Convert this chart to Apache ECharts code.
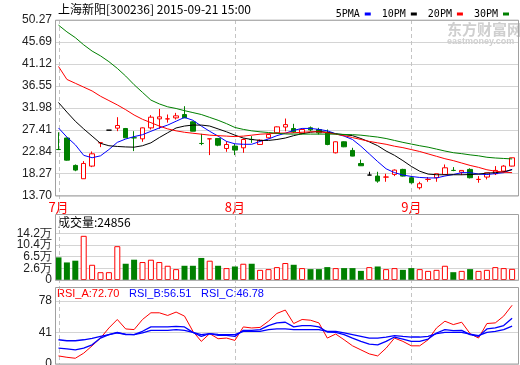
<!DOCTYPE html>
<html><head><meta charset="utf-8">
<script src="https://cdn.jsdelivr.net/npm/echarts@6/dist/echarts.min.js"></script>
<style>html,body{margin:0;padding:0;background:#fff}#c{width:520px;height:365px}</style>
</head><body><div id="c"></div>
<script>
const dates = ['2015-07-03','2015-07-06','2015-07-07','2015-07-08','2015-07-09','2015-07-10','2015-07-13','2015-07-14','2015-07-15','2015-07-16','2015-07-17','2015-07-20','2015-07-21','2015-07-22','2015-07-23','2015-07-24','2015-07-27','2015-07-28','2015-07-29','2015-07-30','2015-07-31',
'2015-08-03','2015-08-04','2015-08-05','2015-08-06','2015-08-07','2015-08-10','2015-08-11','2015-08-12','2015-08-13','2015-08-14','2015-08-17','2015-08-18','2015-08-19','2015-08-20','2015-08-21','2015-08-24','2015-08-25','2015-08-26','2015-08-27','2015-08-28','2015-08-31',
'2015-09-01','2015-09-02','2015-09-07','2015-09-08','2015-09-09','2015-09-10','2015-09-11','2015-09-14','2015-09-15','2015-09-16','2015-09-17','2015-09-18','2015-09-21'];
const openP = [23.32,25.70,20.00,17.23,19.86,24.70,27.34,27.76,27.69,25.76,25.54,27.82,29.69,29.68,29.90,30.59,29.07,24.58,25.53,25.61,23.53,24.02,23.67,25.41,24.36,25.75,26.79,27.99,27.69,26.65,27.83,27.48,26.79,22.63,24.92,23.12,20.40,17.99,17.78,17.57,18.13,19.17,17.44,15.36,17.08,17.44,18.13,18.97,18.60,19.17,17.08,17.58,18.27,18.82,19.86];
const closeP = [23.30,21.10,19.03,20.41,22.42,24.72,27.34,28.31,25.75,25.74,27.82,30.04,30.11,29.70,30.32,29.90,27.13,24.56,25.55,24.22,24.36,23.19,25.40,25.39,25.26,26.44,28.03,28.50,26.99,27.48,27.41,26.79,24.36,24.92,23.88,21.94,19.93,17.99,16.74,17.59,19.03,17.78,16.40,16.19,17.10,18.27,19.51,18.95,18.96,17.44,17.10,18.47,18.96,19.86,21.59];
const lowP = [23.20,21.00,18.80,17.20,19.65,23.81,27.34,27.13,25.70,22.98,24.92,27.48,27.62,28.90,29.56,29.90,27.10,24.22,22.15,24.00,22.84,22.15,22.63,24.70,24.30,25.60,26.60,27.10,26.79,26.50,27.10,26.44,24.20,22.50,23.80,21.90,19.90,17.99,16.40,16.60,17.78,17.70,16.20,15.00,16.60,16.60,18.10,18.80,17.99,17.30,16.40,17.09,18.00,18.50,19.80];
const highP = [26.90,25.80,20.20,20.90,22.90,24.72,27.34,30.04,27.80,27.13,27.90,30.46,31.77,30.60,30.94,32.33,29.20,26.58,25.55,25.70,25.05,24.50,25.61,26.10,25.40,26.60,28.10,29.76,28.66,27.60,28.10,27.83,27.48,25.00,25.00,23.67,21.20,18.68,18.68,18.27,19.17,19.30,17.78,16.60,17.58,18.27,20.20,19.65,18.96,19.40,17.78,18.47,19.86,20.06,21.60];
const ma5 = [27.8,25.9,24.3,22.1,21.6,22.0,23.3,24.8,25.5,26.0,26.4,27.1,27.8,28.4,29.2,30.0,29.4,28.2,27.1,26.1,25.0,24.5,24.4,24.4,25.0,25.5,26.2,26.7,27.3,27.7,27.7,27.5,27.2,26.6,26.1,25.4,24.0,22.4,20.8,19.3,18.5,18.0,17.7,17.5,17.4,17.4,17.8,18.1,18.5,18.5,18.2,18.1,18.3,18.5,19.2];
const ma10 = [33.1,31.1,29.2,27.6,26.1,24.6,24.1,23.95,23.85,23.8,24.1,24.7,25.8,26.8,27.8,28.2,28.4,28.4,28.2,27.6,27.0,26.3,25.7,25.4,25.2,25.2,25.4,25.7,26.2,26.6,26.9,27.1,26.9,26.6,26.4,26.2,25.6,24.9,24.1,23.0,22.1,21.0,19.8,18.8,18.2,18.06,18.06,18.06,18.06,18.1,18.2,18.4,18.5,18.7,19.1];
const ma20 = [40.6,37.9,37.1,36.3,35.5,34.4,33.5,32.6,31.6,30.5,29.6,28.9,28.2,27.6,27.2,26.9,26.7,26.5,26.3,26.2,26.1,26.0,26.1,26.3,26.5,26.6,26.7,26.75,26.8,26.9,27.0,27.0,26.8,26.5,26.2,25.8,25.4,25.0,24.7,24.4,24.0,23.7,23.3,22.9,22.4,21.9,21.4,21.0,20.5,20.0,19.6,19.1,18.8,18.6,18.5];
const ma30 = [49.2,47.8,46.6,45.1,43.8,42.8,41.6,40.2,38.6,36.8,35.2,33.6,32.8,32.2,31.85,31.4,31.0,30.6,30.0,29.4,28.7,27.9,27.5,27.2,27.0,26.85,26.7,26.55,26.52,26.52,26.52,26.52,26.52,26.52,26.45,26.4,26.3,26.1,25.9,25.6,25.2,24.8,24.45,24.1,23.8,23.4,23.0,22.65,22.45,22.2,22.0,21.7,21.55,21.45,21.35];
const vol = [5.04,3.91,4.30,9.84,3.39,1.74,1.74,7.53,3.62,4.52,4.00,4.52,4.00,3.17,2.42,3.17,3.17,4.91,4.30,3.17,2.65,3.01,3.62,3.62,2.26,2.42,2.87,3.78,3.39,2.65,2.42,2.42,2.87,2.65,2.65,2.65,2.03,2.87,3.01,2.42,2.65,2.26,2.65,2.42,2.03,2.26,3.17,1.74,2.03,2.42,2.03,2.26,2.87,2.65,2.4856];
const rsiA = [10.0,8.3,7.1,13.4,22.5,32.1,44.6,55.1,43.4,42.6,55.1,63.4,63.4,60.1,64.3,59.3,40.5,28.0,37.6,31.3,32.1,29.2,45.9,44.6,45.3,53.0,62.6,66.8,50.1,55.1,54.2,50.9,32.1,37.1,30.0,22.5,17.5,12.5,10.0,19.6,32.1,28.0,22.5,22.5,30.0,44.6,53.0,48.8,51.7,37.6,32.1,50.1,50.9,59.3,72.7];
const rsiB = [19.6,18.8,17.5,19.6,23.8,32.1,36.3,39.2,36.3,36.3,40.5,45.9,45.9,45.9,46.7,45.9,39.2,34.2,37.6,35.5,35.5,34.2,41.7,41.7,42.5,47.6,50.9,51.7,45.9,47.6,47.6,45.9,39.6,39.2,36.3,32.1,28.0,24.6,23.8,28.0,33.4,30.9,28.0,28.0,30.9,38.4,42.6,41.3,41.7,36.3,34.2,43.4,44.6,47.6,56.5];
const rsiC = [30.0,28.8,28.8,30.0,31.7,34.2,36.3,38.4,37.1,36.3,38.4,41.7,41.7,41.7,42.6,41.7,39.2,36.3,37.6,36.7,36.3,36.3,40.5,40.5,40.5,42.6,43.4,43.4,42.6,42.6,42.6,42.6,40.5,40.5,38.4,36.3,34.2,32.1,32.1,33.4,35.1,34.2,33.4,33.4,34.2,37.6,39.2,39.2,39.2,37.1,35.1,39.2,40.5,42.6,46.8];
const priceTicks = ['13.70','18.27','22.84','27.41','31.98','36.55','41.12','45.69','50.27'];
const volTicks = ['0','2.6万','6.5万','10.4万','14.2万'];
const volStep = 2.6;
const rsiTicks = ['0','41','78'];
const maNames = ['5PMA','10PM','20PM','30PM'];
const title = '上海新阳[300236] 2015-09-21 15:00';
const volHeader = '成交量:24856';
const rsiHeader = ['RSI_A:72.70','RSI_B:56.51','RSI_C:46.78'];

const UP = '#ff0000', DOWN = '#008000', BLUE = '#0000ff';
const FRAME = '#a0a0a0', GRIDC = '#d4d4d4';
const gL = 54.3, gW = 462, fL = 55, fW = 464;
const P = {top: 20, h: 175.7}, V = {top: 233.3, h: 46.7}, R = {top: 301, h: 63};
const monthStarts = dates.map((d, i) => (i === 0 || d.slice(5, 7) !== dates[i - 1].slice(5, 7)) ? i : -1).filter(i => i >= 0);

const candleData = dates.map((d, i) => {
  const it = {value: [openP[i], closeP[i], lowP[i], highP[i]]};
  if (openP[i] === closeP[i]) it.itemStyle = {color: '#000', color0: '#000', borderColor: '#000', borderColor0: '#000'};
  return it;
});
const volData = vol.map((v, i) => closeP[i] >= openP[i]
  ? {value: v, itemStyle: {color: '#fff', borderColor: UP, borderWidth: 1}}
  : {value: v, itemStyle: {color: DOWN}});

const lblStyle = {color: '#222', fontSize: 12, fontFamily: 'Liberation Sans', margin: 3, showMinLabel: true, showMaxLabel: true, hideOverlap: false};
function labelAxis(grid, ticks, showLabels) {
  return {type: 'value', gridIndex: grid, min: 0, max: ticks.length - 1, interval: 1,
    axisLine: {show: false}, axisTick: {show: false},
    splitLine: {show: true, lineStyle: {color: GRIDC, width: 1}},
    axisLabel: Object.assign({show: showLabels, formatter: v => ticks[Math.round(v)]}, lblStyle)};
}
const lineS = (name, data, color, xi, yi, w) => ({name, type: 'line', data, xAxisIndex: xi, yAxisIndex: yi,
  showSymbol: false, symbol: 'none', smooth: false, itemStyle: {color}, lineStyle: {color, width: w || 1}, z: 3});
const mkGrid = (left, width, top, height) => ({left, width, top, height, containLabel: false, outerBoundsMode: 'none'});

const chart = echarts.init(document.getElementById('c'));
chart.setOption({
  animation: false,
  backgroundColor: '#fff',
  legend: {data: maNames, right: 6, top: 4, align: 'right', icon: 'rect', itemWidth: 6, itemHeight: 3, itemGap: 11,
    selectedMode: false, textStyle: {fontFamily: 'DejaVu Sans Mono', fontSize: 10, color: '#000'}},
  grid: [
    mkGrid(gL, gW, P.top, P.h), mkGrid(fL, fW, P.top, P.h),
    mkGrid(gL, gW, V.top, V.h), mkGrid(fL, fW, V.top, V.h),
    mkGrid(gL, gW, R.top, R.h), mkGrid(fL, fW, R.top, R.h)
  ],
  xAxis: [
    {type: 'category', gridIndex: 0, data: dates, boundaryGap: true, axisLine: {show: false}, axisTick: {show: false}, splitLine: {show: false},
      axisLabel: {interval: i => monthStarts.includes(i), formatter: v => Number(v.slice(5, 7)) + '月', color: UP,
        fontSize: 13, fontFamily: 'Noto Sans CJK SC', margin: 5, hideOverlap: false}},
    {type: 'value', gridIndex: 1, show: false, min: 0, max: 1},
    {type: 'category', gridIndex: 2, data: dates, show: false},
    {type: 'value', gridIndex: 3, show: false, min: 0, max: 1},
    {type: 'category', gridIndex: 4, data: dates, show: false},
    {type: 'value', gridIndex: 5, show: false, min: 0, max: 1}
  ],
  yAxis: [
    {type: 'value', gridIndex: 0, min: Number(priceTicks[0]), max: Number(priceTicks[priceTicks.length - 1]), show: false},
    labelAxis(1, priceTicks, true),
    {type: 'value', gridIndex: 2, min: 0, max: volStep * (volTicks.length - 1), show: false},
    labelAxis(3, volTicks, false),
    {type: 'value', gridIndex: 4, min: 0, max: Number(rsiTicks[rsiTicks.length - 1]), show: false},
    labelAxis(5, rsiTicks, true)
  ],
  series: [
    {type: 'candlestick', name: 'K', data: candleData, xAxisIndex: 0, yAxisIndex: 0, barWidth: 5,
      itemStyle: {color: '#fff', color0: DOWN, borderColor: UP, borderColor0: DOWN, borderWidth: 1}, z: 2},
    lineS(maNames[0], ma5, BLUE, 0, 0),
    lineS(maNames[1], ma10, '#000', 0, 0),
    lineS(maNames[2], ma20, UP, 0, 0),
    lineS(maNames[3], ma30, DOWN, 0, 0),
    {type: 'bar', name: 'VOL', data: volData, xAxisIndex: 2, yAxisIndex: 2, barWidth: 6},
    lineS('RSI_A', rsiA, UP, 4, 4),
    lineS('RSI_B', rsiB, BLUE, 4, 4, 1.3),
    lineS('RSI_C', rsiC, BLUE, 4, 4, 1.3)
  ]
});

const els = [];
monthStarts.forEach(i => {
  const x = Math.round(chart.convertToPixel({xAxisIndex: 0}, i)) + 0.5;
  els.push({type: 'line', z: 1, silent: true, shape: {x1: x, y1: P.top, x2: x, y2: R.top + R.h},
    style: {stroke: '#c4c4c4', lineWidth: 1, lineDash: [4, 3]}});
});
// volume tick labels placed on the label axis ticks (ECharts would drop overlapping ones)
volTicks.forEach((t, k) => {
  const y = chart.convertToPixel({yAxisIndex: 3}, k);
  els.push({type: 'text', z: 6, silent: true, x: fL - 3, y: y,
    style: {text: t, fill: '#222', font: '12px "Liberation Sans"', align: 'right', verticalAlign: 'middle'}});
});
const frame = (y1, y2) => ({type: 'rect', z: 5, silent: true, shape: {x: fL + 0.5, y: y1 + 0.5, width: fW - 1, height: y2 - y1},
  style: {fill: 'none', stroke: FRAME, lineWidth: 1}});
els.push(frame(P.top - 0.3, P.top + P.h - 0.2));
els.push(frame(214, V.top + V.h - 0.3));
els.push(frame(287, R.top + R.h - 0.5));
els.push({type: 'text', left: 58, top: 3, style: {text: title, fill: '#000', font: '12px "Noto Sans CJK SC"'}});
els.push({type: 'text', left: 58, top: 216, style: {text: volHeader, fill: '#000', font: '12px "Noto Sans CJK SC"'}});
[[57, UP], [129, BLUE], [201, BLUE]].forEach((p, k) => {
  els.push({type: 'text', left: p[0], top: 288, style: {text: rsiHeader[k], fill: p[1], font: '11px "Liberation Sans"'}});
});
els.push({type: 'text', left: 447, top: 22, z: 0, style: {text: '东方财富网', fill: '#cfcfcf', font: 'bold 15px "Noto Sans CJK SC"'}});
els.push({type: 'text', left: 447, top: 37, z: 0, style: {text: 'eastmoney.com', fill: '#cfcfcf', font: 'bold 9px "Liberation Sans"'}});
chart.setOption({graphic: {elements: els}});
</script></body></html>
